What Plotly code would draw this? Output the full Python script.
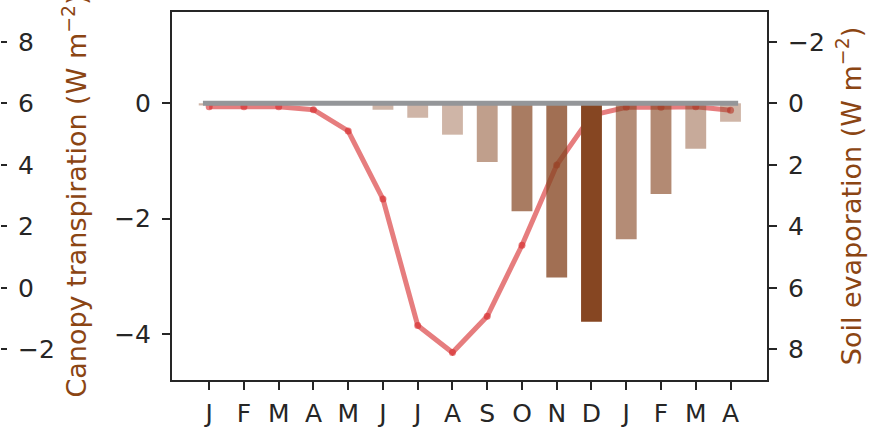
import plotly.graph_objects as go

# ---------------- data ----------------
months = ["J", "F", "M", "A", "M", "J", "J", "A", "S", "O", "N", "D", "J", "F", "M", "A"]
month_index = list(range(len(months)))

# canopy transpiration (line, left inner axis)
canopy_transpiration = [-0.06, -0.06, -0.06, -0.11, -0.48, -1.66, -3.85, -4.32,
                        -3.69, -2.46, -1.07, -0.21, -0.07, -0.07, -0.06, -0.12]

# soil evaporation (bars, right axis, reversed)
soil_evaporation = [0.07, 0.03, 0.03, 0.03, 0.05, 0.21, 0.47, 1.02,
                    1.91, 3.51, 5.66, 7.10, 4.42, 2.95, 1.48, 0.60]

inner_ticks = [0, -2, -4]
outer_ticks = [-2, 0, 2, 4, 6, 8]

# ---------------- styles ----------------
bar_alpha = [0.4, 0.4, 0.4, 0.4, 0.4, 0.4, 0.4, 0.4,
             0.52, 0.71, 0.78, 1.0, 0.62, 0.63, 0.46, 0.4]
BROWN = (134, 70, 34)
bar_colors = [f"rgba({BROWN[0]},{BROWN[1]},{BROWN[2]},{a})" for a in bar_alpha]
TITLE_BROWN = "#8B4513"
INK = "#262626"
FONT = "DejaVu Sans"
FS = 25
TFS = 27
ZERO_LINE_START, ZERO_LINE_END = -0.18, 15.22

W, H = 877, 428
x_left_px, x_right_px = 172, 767

fig = go.Figure()

fig.add_trace(go.Scatter(
    x=month_index, y=canopy_transpiration, mode="lines+markers",
    line=dict(color="rgba(214,39,40,0.6)", width=5),
    marker=dict(color="rgba(214,39,40,0.6)", size=7),
    yaxis="y", showlegend=False, hoverinfo="skip"))

fig.add_trace(go.Bar(
    x=month_index, y=soil_evaporation, width=0.6,
    marker=dict(color=bar_colors, line=dict(width=0)),
    yaxis="y2", showlegend=False))

fig.add_trace(go.Scatter(x=[None], y=[None], yaxis="y3", showlegend=False))

fig.add_shape(type="line", xref="x", yref="y",
              x0=ZERO_LINE_START, x1=ZERO_LINE_END, y0=0, y1=0,
              line=dict(color="rgb(148,150,153)", width=5), layer="above")

axis_common = dict(ticks="outside", ticklen=8, tickwidth=2, tickcolor=INK,
                   showgrid=False, zeroline=False,
                   tickfont=dict(family=FONT, size=FS, color=INK))

fig.update_layout(
    width=W, height=H,
    margin=dict(l=0, r=0, t=12, b=48),
    paper_bgcolor="white", plot_bgcolor="white",
    font=dict(family=FONT, size=FS, color=INK),
    showlegend=False,
    xaxis=dict(domain=[x_left_px / W, x_right_px / W], range=[-1.07, 16.05],
               tickmode="array", tickvals=month_index, ticktext=months,
               showline=True, linewidth=2, linecolor=INK, mirror=True,
               ticklabelstandoff=2, **axis_common),
    yaxis=dict(range=[-4.795, 1.582], tickmode="array", tickvals=inner_ticks,
               showline=True, linewidth=2, linecolor=INK,
               ticklabelstandoff=6, **axis_common),
    yaxis2=dict(overlaying="y", side="right", anchor="x",
                range=[8.993, -2.967], tickmode="array", tickvals=outer_ticks,
                showline=True, linewidth=2, linecolor=INK,
                ticklabelstandoff=6,
                title=dict(text="Soil evaporation (W m<sup>−2</sup>)",
                           font=dict(family=FONT, size=TFS, color=TITLE_BROWN),
                           standoff=18),
                **axis_common),
    yaxis3=dict(overlaying="y", side="right", anchor="free", position=0,
                range=[-2.993, 8.967], tickmode="array", tickvals=outer_ticks,
                showline=False, ticklabelstandoff=6,
                title=dict(text="Canopy transpiration (W m<sup>−2</sup>)",
                           font=dict(family=FONT, size=TFS, color=TITLE_BROWN),
                           standoff=13),
                **{**axis_common, "ticklen": 6}),
)

fig.write_html("out.html", config={"displayModeBar": False},
               post_script="document.body.style.margin='0';")
